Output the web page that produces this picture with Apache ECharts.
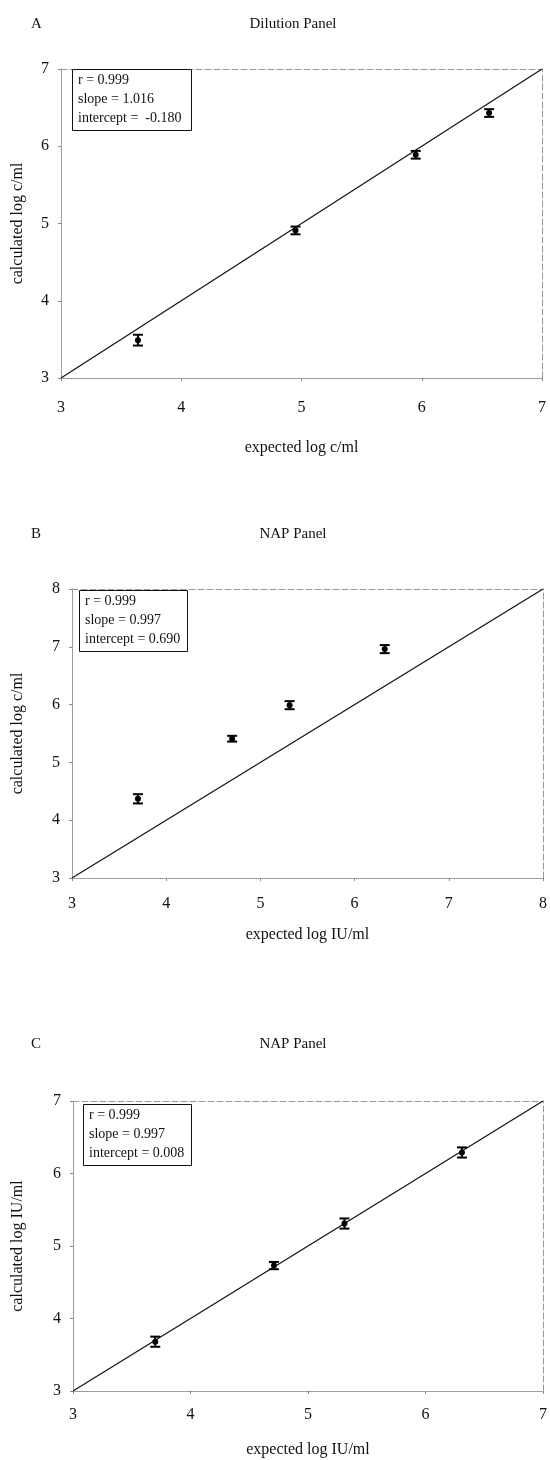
<!DOCTYPE html>
<html>
<head>
<meta charset="utf-8">
<script src="https://cdn.jsdelivr.net/npm/echarts@6/dist/echarts.min.js"></script>
<style>
html,body{margin:0;padding:0;background:#fff;}
#main{width:550px;height:1460px;}
</style>
</head>
<body>
<div id="main"></div>
<script>
// Panel A: Dilution Panel
const expectedA = [3.64, 4.95, 5.95, 6.56];
const calculatedA = [3.49, 4.91, 5.89, 6.43];
const errA = [0.07, 0.05, 0.05, 0.05];
const lineA = [3, 7];
const ticksA = [3, 4, 5, 6, 7];

// Panel B: NAP Panel (c/ml)
const expectedB = [3.70, 4.70, 5.31, 6.32];
const calculatedB = [4.37, 5.41, 5.99, 6.96];
const errB = [0.08, 0.05, 0.07, 0.07];
const lineB = [3, 8];
const ticksB = [3, 4, 5, 6, 7, 8];

// Panel C: NAP Panel (IU/ml)
const expectedC = [3.70, 4.71, 5.31, 6.31];
const calculatedC = [3.68, 4.73, 5.31, 6.29];
const errC = [0.07, 0.05, 0.07, 0.07];
const lineC = [3, 7];
const ticksC = [3, 4, 5, 6, 7];

const panelLetters = ['A', 'B', 'C'];
const panelTitles = ['Dilution Panel', 'NAP Panel', 'NAP Panel'];
const xNames = ['expected log c/ml', 'expected log IU/ml', 'expected log IU/ml'];
const yNames = ['calculated log c/ml', 'calculated log c/ml', 'calculated log IU/ml'];
const statsText = [
  ['r = 0.999', 'slope = 1.016', 'intercept =  -0.180'],
  ['r = 0.999', 'slope = 0.997', 'intercept = 0.690'],
  ['r = 0.999', 'slope = 0.997', 'intercept = 0.008']
];

const FONT = '"Liberation Serif", "DejaVu Serif", serif';
const panels = [
  {x: expectedA, y: calculatedA, e: errA, line: lineA, ticks: ticksA},
  {x: expectedB, y: calculatedB, e: errB, line: lineB, ticks: ticksB},
  {x: expectedC, y: calculatedC, e: errC, line: lineC, ticks: ticksC}
];
const grids = [
  {left: 61, top: 69, width: 481, height: 309},
  {left: 72, top: 589, width: 471, height: 289},
  {left: 73, top: 1101, width: 470, height: 290}
];
const yNameGap = [35, 46, 47];
const xNameGap = [62, 49, 51];
const xLabelMargin = [22, 18, 16];
const boxPos = [[72, 69], [79, 590], [83, 1104]];
const boxPadding = [[2, 10, 3, 6], [2, 7, 3, 6], [2, 7, 3, 6]];
const titleTop = [12, 522, 1032];

const chart = echarts.init(document.getElementById('main'), null, {renderer: 'canvas'});

const xAxes = [], yAxes = [], series = [], titles = [];
panels.forEach((p, i) => {
  const mn = p.ticks[0], mx = p.ticks[p.ticks.length - 1];
  const base = {
    min: mn, max: mx, interval: 1, type: 'value', gridIndex: i,
    splitLine: {show: false}
  };
  xAxes.push(Object.assign({}, base, {
    position: 'bottom',
    name: xNames[i], nameLocation: 'middle', nameGap: xNameGap[i],
    nameTextStyle: {fontFamily: FONT, fontSize: 16, color: '#111'},
    axisLine: {show: true, lineStyle: {color: '#888', type: 'dotted', width: 1}},
    axisTick: {show: true, length: 3, lineStyle: {color: '#888'}},
    axisLabel: {fontFamily: FONT, fontSize: 16, color: '#111', margin: xLabelMargin[i]}
  }));
  xAxes.push(Object.assign({}, base, {
    position: 'top',
    axisLine: {show: true, lineStyle: {color: '#999', type: [6, 3], width: 1}},
    axisTick: {show: false}, axisLabel: {show: false}
  }));
  yAxes.push(Object.assign({}, base, {
    position: 'left',
    name: yNames[i], nameLocation: 'middle', nameGap: yNameGap[i],
    nameTextStyle: {fontFamily: FONT, fontSize: 16, color: '#111'},
    axisLine: {show: true, lineStyle: {color: '#888', type: 'dotted', width: 1}},
    axisTick: {show: true, length: 3, lineStyle: {color: '#888'}},
    axisLabel: {fontFamily: FONT, fontSize: 16, color: '#111', margin: 12}
  }));
  yAxes.push(Object.assign({}, base, {
    position: 'right',
    axisLine: {show: true, lineStyle: {color: '#999', type: [6, 3], width: 1}},
    axisTick: {show: false}, axisLabel: {show: false}
  }));

  series.push({
    type: 'line', xAxisIndex: 2 * i, yAxisIndex: 2 * i,
    data: [[p.line[0], p.line[0]], [p.line[1], p.line[1]]],
    symbol: 'none', lineStyle: {color: '#111', width: 1.2}, silent: true, z: 2
  });
  series.push({
    type: 'custom', xAxisIndex: 2 * i, yAxisIndex: 2 * i,
    data: p.x.map((v, k) => [v, p.y[k], p.e[k]]),
    renderItem: function (params, api) {
      const xv = api.value(0), yv = api.value(1), ev = api.value(2);
      const c = api.coord([xv, yv]);
      const hi = api.coord([xv, yv + ev]);
      const lo = api.coord([xv, yv - ev]);
      const w = 5;
      const st = {stroke: '#000', lineWidth: 2};
      return {
        type: 'group', children: [
          {type: 'line', shape: {x1: c[0], y1: hi[1], x2: c[0], y2: lo[1]}, style: st},
          {type: 'line', shape: {x1: c[0] - w, y1: hi[1], x2: c[0] + w, y2: hi[1]}, style: st},
          {type: 'line', shape: {x1: c[0] - w, y1: lo[1], x2: c[0] + w, y2: lo[1]}, style: st},
          {type: 'circle', shape: {cx: c[0], cy: c[1], r: 3}, style: {fill: '#000'}}
        ]
      };
    },
    z: 3
  });

  titles.push({
    text: panelLetters[i], left: 26, top: titleTop[i],
    textStyle: {fontFamily: FONT, fontSize: 15, fontWeight: 'normal', color: '#111'}
  });
  titles.push({
    text: panelTitles[i], left: 288, top: titleTop[i], textAlign: 'center',
    textStyle: {fontFamily: FONT, fontSize: 15, fontWeight: 'normal', color: '#111'}
  });
  titles.push({
    text: statsText[i].join('\n'), left: boxPos[i][0], top: boxPos[i][1],
    borderColor: '#111', borderWidth: 1, backgroundColor: '#fff',
    padding: boxPadding[i], z: 10,
    textStyle: {fontFamily: FONT, fontSize: 14, fontWeight: 'normal', color: '#111', lineHeight: 19}
  });
});

chart.setOption({
  animation: false,
  backgroundColor: '#fff',
  title: titles,
  grid: grids,
  xAxis: xAxes,
  yAxis: yAxes,
  series: series
});
</script>
</body>
</html>
